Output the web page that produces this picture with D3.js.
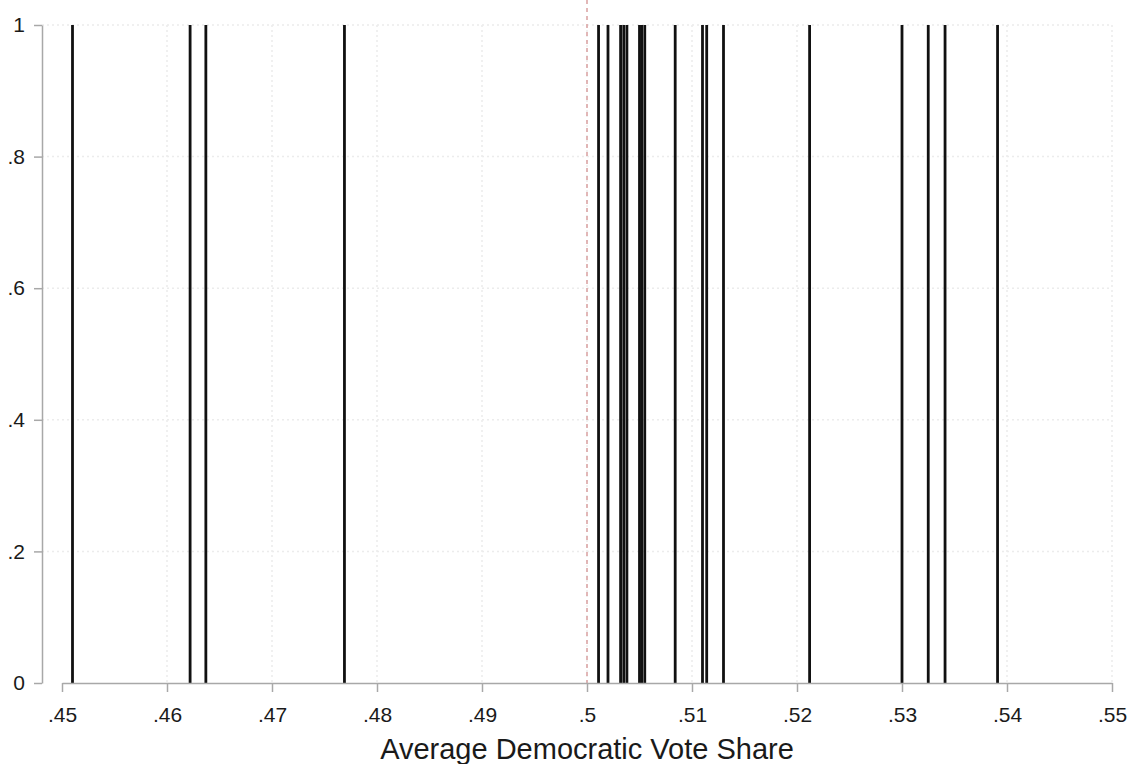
<!DOCTYPE html>
<html lang="en">
<head>
  <meta charset="utf-8">
  <title>Average Democratic Vote Share</title>
  <script src="https://d3js.org/d3.v7.min.js"></script>
  <style>
    body { margin: 0; background: #fff; }
    .axis text { font-family: "Liberation Sans", Arial, sans-serif; font-size: 21px; fill: #1a1a1a; }
    .axis path, .axis line { stroke: #a8a8a8; stroke-width: 1.5; }
    .grid line { stroke: #ececec; stroke-width: 1.5; stroke-dasharray: 2,3; }
    .spike { stroke: #111; stroke-width: 2.8; }
    .cutoff { stroke: #d9a0a0; stroke-width: 1.5; stroke-dasharray: 4,4; }
  </style>
</head>
<body>
<script>
  const voteShares = [0.4510, 0.4622, 0.4637, 0.4769,
    0.5011, 0.5020, 0.5032, 0.5035, 0.5038, 0.5050, 0.5052, 0.5055,
    0.5084, 0.5110, 0.5114, 0.5130,
    0.5212, 0.5300, 0.5325, 0.5341, 0.5391];
  const spikeHeights = voteShares.map(() => 1);
  const xTicks = [0.45, 0.46, 0.47, 0.48, 0.49, 0.50, 0.51, 0.52, 0.53, 0.54, 0.55];
  const yTicks = [0, 0.2, 0.4, 0.6, 0.8, 1];
  const cutoff = 0.5;
  const xTitle = "Average Democratic Vote Share";

  const width = 1131, height = 764;
  const svg = d3.select("body").append("svg")
    .attr("width", width)
    .attr("height", height);

  const x = d3.scaleLinear().domain([0.45, 0.55]).range([62, 1112]);
  const y = d3.scaleLinear().domain([0, 1]).range([683, 25]);

  // Stata style labels: no leading zero
  const fmt = d => d === 0 ? "0" : d === 1 ? "1" : String(+d.toFixed(2)).replace(/^0/, "");

  // faint grid
  svg.append("g").attr("class", "grid")
    .selectAll("line").data(yTicks.slice(1)).enter().append("line")
    .attr("x1", 42).attr("x2", 1112)
    .attr("y1", d => y(d)).attr("y2", d => y(d));
  svg.append("g").attr("class", "grid")
    .selectAll("line").data(xTicks.slice(1)).enter().append("line")
    .attr("x1", d => x(d)).attr("x2", d => x(d))
    .attr("y1", y(1)).attr("y2", y(0));

  // dashed line at .5
  svg.append("line").attr("class", "cutoff")
    .attr("x1", x(cutoff)).attr("x2", x(cutoff))
    .attr("y1", 0).attr("y2", y(0));

  // spikes
  svg.selectAll(".spike")
    .data(voteShares).enter().append("line")
    .attr("class", "spike")
    .attr("x1", d => x(d)).attr("x2", d => x(d))
    .attr("y1", y(0)).attr("y2", (d, i) => y(spikeHeights[i]));

  // axes
  svg.append("g").attr("class", "axis")
    .attr("transform", "translate(42,0)")
    .call(d3.axisLeft(y).tickValues(yTicks).tickSize(8).tickSizeOuter(0).tickPadding(9).tickFormat(fmt));
  svg.append("g").attr("class", "axis")
    .attr("transform", "translate(0," + y(0) + ")")
    .call(d3.axisBottom(x).tickValues(xTicks).tickSize(9).tickSizeOuter(0).tickPadding(15).tickFormat(fmt));

  svg.append("text")
    .attr("x", x(0.5))
    .attr("y", 759)
    .attr("text-anchor", "middle")
    .style("font-family", "'Liberation Sans', Arial, sans-serif")
    .style("font-size", "29px")
    .style("fill", "#1a1a1a")
    .text(xTitle);
</script>
</body>
</html>
